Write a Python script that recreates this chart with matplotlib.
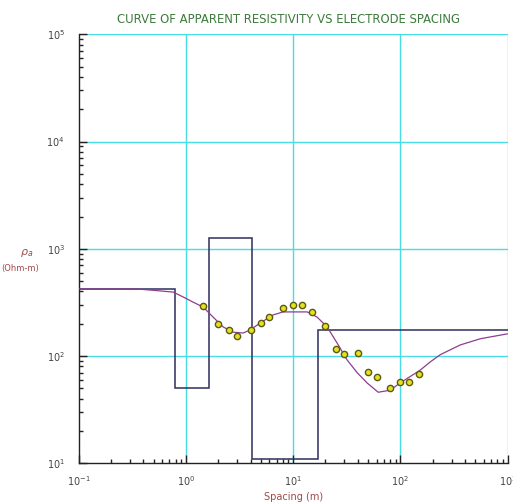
import numpy as np
import matplotlib
matplotlib.use('Agg')
import matplotlib.pyplot as plt
from matplotlib.ticker import LogLocator, NullFormatter

# observed apparent resistivity (field data)
spacing_obs = [1.45, 2.0, 2.5, 3.0, 4.0, 5.0, 6.0, 8.0, 10, 12, 15, 20, 25, 30, 40, 50, 60, 80, 100, 120, 150]
rho_obs = [293, 199, 175, 154, 175, 203, 231, 280, 299, 299, 258, 191, 116, 105, 107, 71, 64, 50, 57, 57, 68]

# computed curve
spacing_calc = [0.1, 0.35, 0.46, 0.76, 0.94, 1.16, 1.45, 1.79, 2.22, 2.75, 3.41, 3.96, 4.91, 6.5,
                8.05, 10, 13.5, 16.7, 20.7, 25.7, 31.8, 39.5, 49, 62, 80, 99, 153, 189, 235, 361, 555, 990]
rho_calc = [422, 422, 413, 395, 356, 319, 286, 231, 187, 167, 164, 175, 203, 242,
            258, 258, 258, 231, 187, 132, 92, 70, 56, 46, 48, 56, 74, 88, 103, 127, 145, 161]

# layered model
layer_top = [0.1, 0.79, 1.64, 4.14, 17.1]
layer_rho = [422, 50, 1260, 11, 175]
model_end = 1000

fig = plt.figure(figsize=(5.13, 5.03), dpi=100)
ax = fig.add_axes([0.1534, 0.0789, 0.8363, 0.8529])

ax.set_xscale('log')
ax.set_yscale('log')
ax.set_xlim(0.1, 1000)
ax.set_ylim(10, 1e5)

grid_col = '#48dce4'
for v in [1, 10, 100, 1000]:
    ax.axvline(v, color=grid_col, lw=1.0, zorder=0)
for v in [1e2, 1e3, 1e4, 1e5]:
    ax.axhline(v, color=grid_col, lw=1.0, zorder=0)

# model step line
xs = layer_top + [model_end]
ax.stairs(layer_rho, xs, baseline=None, color='#2e2e5c', lw=1.1, zorder=2)

ax.plot(spacing_calc, rho_calc, color='#8e3e8e', lw=0.9, zorder=3)
ax.plot(spacing_obs, rho_obs, 'o', ms=4.5, mfc='#e6e020', mec='#5a5a10', mew=1.0, zorder=4)

for s in ['top', 'right']:
    ax.spines[s].set_visible(False)
for s in ['left', 'bottom']:
    ax.spines[s].set_color('#222222')
    ax.spines[s].set_linewidth(1.0)

ax.xaxis.set_major_locator(LogLocator(base=10, numticks=10))
ax.yaxis.set_major_locator(LogLocator(base=10, numticks=10))
ax.xaxis.set_minor_locator(LogLocator(base=10, subs=np.arange(2, 10), numticks=10))
ax.yaxis.set_minor_locator(LogLocator(base=10, subs=np.arange(2, 10), numticks=10))
ax.xaxis.set_minor_formatter(NullFormatter())
ax.yaxis.set_minor_formatter(NullFormatter())
ax.tick_params(which='major', direction='in', length=6, width=1, colors='#222222',
               labelsize=7, labelcolor='#444444')
ax.tick_params(which='minor', direction='in', length=3, width=1, colors='#222222')
ax.tick_params(axis='y', which='major', pad=10)
ax.tick_params(axis='x', which='major', pad=8)

fig.text(0.5625, 0.962, 'CURVE OF APPARENT RESISTIVITY VS ELECTRODE SPACING',
         ha='center', va='center', fontsize=8.4, color='#3d7a3d')
ax.set_xlabel('Spacing (m)', fontsize=7, color='#a04848', labelpad=3)
fig.text(0.052, 0.497, r'$\rho_a$', ha='center', va='center', fontsize=8, color='#a04848')
fig.text(0.039, 0.467, '(Ohm-m)', ha='center', va='center', fontsize=6, color='#a04848')

plt.savefig('out.png', dpi=100)
